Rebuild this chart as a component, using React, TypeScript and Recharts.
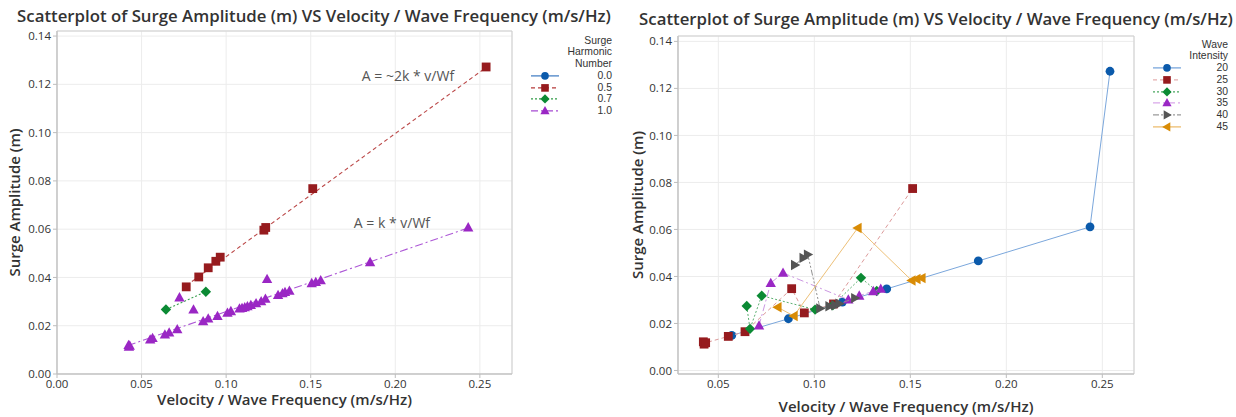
import React from "react";
import {
  ScatterChart,
  Scatter,
  XAxis,
  YAxis,
  CartesianGrid,
  ReferenceArea,
  ReferenceDot,
} from "recharts";

// ---------- LEFT CHART DATA (grouped by Surge Harmonic Number) ----------
const harmonic05 = [
  { x: 0.0764, y: 0.0361 }, { x: 0.0838, y: 0.0402 }, { x: 0.0894, y: 0.044 },
  { x: 0.0939, y: 0.0467 }, { x: 0.0965, y: 0.0484 }, { x: 0.1223, y: 0.0596 },
  { x: 0.1234, y: 0.0607 }, { x: 0.1512, y: 0.0768 }, { x: 0.2537, y: 0.1272 },
];
const harmonic07 = [
  { x: 0.0644, y: 0.0267 }, { x: 0.088, y: 0.0341 },
];
const harmonic10 = [
  { x: 0.0423, y: 0.012 }, { x: 0.0425, y: 0.0112 }, { x: 0.043, y: 0.0117 },
  { x: 0.0551, y: 0.0142 }, { x: 0.0565, y: 0.0149 }, { x: 0.0638, y: 0.0163 },
  { x: 0.0663, y: 0.0171 }, { x: 0.0711, y: 0.0185 }, { x: 0.0724, y: 0.0317 },
  { x: 0.0807, y: 0.0267 }, { x: 0.0864, y: 0.0218 }, { x: 0.0894, y: 0.0229 },
  { x: 0.0949, y: 0.024 }, { x: 0.1008, y: 0.0253 }, { x: 0.1028, y: 0.026 },
  { x: 0.1079, y: 0.0271 }, { x: 0.1094, y: 0.0273 }, { x: 0.111, y: 0.0276 },
  { x: 0.1126, y: 0.028 }, { x: 0.1146, y: 0.0285 }, { x: 0.1177, y: 0.0293 },
  { x: 0.1207, y: 0.0301 }, { x: 0.1232, y: 0.0311 }, { x: 0.1242, y: 0.0393 },
  { x: 0.1307, y: 0.0327 }, { x: 0.1333, y: 0.0334 }, { x: 0.1348, y: 0.0339 },
  { x: 0.1374, y: 0.0344 }, { x: 0.1506, y: 0.0376 }, { x: 0.153, y: 0.0381 },
  { x: 0.1559, y: 0.0388 }, { x: 0.1851, y: 0.0463 }, { x: 0.2431, y: 0.0607 },
];
// fitted lines (end points)
const fit05 = [{ x: 0.0764, y: 0.0366 }, { x: 0.2537, y: 0.127 }];
const fit07 = [{ x: 0.0644, y: 0.0267 }, { x: 0.088, y: 0.0341 }];
const fit10 = [{ x: 0.0419, y: 0.0118 }, { x: 0.2431, y: 0.0605 }];

const leftXTicks = [0, 0.05, 0.1, 0.15, 0.2, 0.25];
const leftYTicks = [0, 0.02, 0.04, 0.06, 0.08, 0.1, 0.12, 0.14];
const leftLegendTitle = ["Surge", "Harmonic", "Number"];
const leftLegendLabels = ["0.0", "0.5", "0.7", "1.0"];
const annotations = ["A = ~2k * v/Wf", "A = k * v/Wf"];

// ---------- RIGHT CHART DATA (grouped by Wave Intensity) ----------
const intensity20 = [
  { x: 0.057, y: 0.0149 }, { x: 0.0865, y: 0.022 }, { x: 0.1146, y: 0.0291 },
  { x: 0.1377, y: 0.0347 }, { x: 0.1854, y: 0.0466 }, { x: 0.2436, y: 0.0611 },
  { x: 0.254, y: 0.1273 },
];
const intensity25 = [
  { x: 0.0422, y: 0.0122 }, { x: 0.0426, y: 0.0112 }, { x: 0.0434, y: 0.0118 },
  { x: 0.0552, y: 0.0145 }, { x: 0.0639, y: 0.0165 }, { x: 0.0882, y: 0.0348 },
  { x: 0.0948, y: 0.0245 }, { x: 0.11, y: 0.0283 }, { x: 0.1512, y: 0.0774 },
];
const intensity30 = [
  { x: 0.0648, y: 0.0274 }, { x: 0.0665, y: 0.0177 }, { x: 0.0726, y: 0.0318 },
  { x: 0.1004, y: 0.0259 }, { x: 0.1096, y: 0.0277 }, { x: 0.1243, y: 0.0394 },
  { x: 0.1325, y: 0.0338 },
];
const intensity35 = [
  { x: 0.0712, y: 0.0191 }, { x: 0.0773, y: 0.0372 }, { x: 0.0837, y: 0.0415 },
  { x: 0.1177, y: 0.0301 }, { x: 0.1234, y: 0.0318 }, { x: 0.1307, y: 0.0337 },
  { x: 0.1346, y: 0.0347 },
];
const intensity40 = [
  { x: 0.0899, y: 0.0449 }, { x: 0.0943, y: 0.0479 }, { x: 0.0966, y: 0.0493 },
  { x: 0.103, y: 0.0264 }, { x: 0.1078, y: 0.0273 }, { x: 0.1108, y: 0.0277 },
  { x: 0.113, y: 0.0284 }, { x: 0.1212, y: 0.0308 },
];
const intensity45 = [
  { x: 0.0809, y: 0.0269 }, { x: 0.0893, y: 0.0232 }, { x: 0.1226, y: 0.0606 },
  { x: 0.1507, y: 0.0383 }, { x: 0.1533, y: 0.0389 }, { x: 0.1559, y: 0.0393 },
];
const rightXTicks = [0.05, 0.1, 0.15, 0.2, 0.25];
const rightYTicks = [0, 0.02, 0.04, 0.06, 0.08, 0.1, 0.12, 0.14];
const rightLegendTitle = ["Wave", "Intensity"];
const rightLegendLabels = ["20", "25", "30", "35", "40", "45"];

const TITLE = "Scatterplot of Surge Amplitude (m) VS Velocity / Wave Frequency (m/s/Hz)";
const X_LABEL = "Velocity / Wave Frequency (m/s/Hz)";
const Y_LABEL = "Surge Amplitude (m)";

// ---------- styles ----------
const FONT = "'Open Sans', 'Noto Sans', sans-serif";
const LEGEND_FONT = "'Liberation Sans', Arial, sans-serif";
const C = {
  blue: "#0b5aab",
  red: "#961b1e",
  green: "#0b8a34",
  purple: "#9a27c4",
  gray: "#555555",
  orange: "#d98c06",
};

type Kind = "circle" | "square" | "diamond" | "up" | "right" | "left";

const markerEl = (kind: Kind, cx: number, cy: number, fill: string, s = 4.4) => {
  switch (kind) {
    case "circle":
      return <circle cx={cx} cy={cy} r={s} fill={fill} />;
    case "square":
      return <rect x={cx - s} y={cy - s} width={2 * s} height={2 * s} fill={fill} />;
    case "diamond":
      return (
        <polygon
          points={`${cx},${cy - s - 0.8} ${cx + s + 0.8},${cy} ${cx},${cy + s + 0.8} ${cx - s - 0.8},${cy}`}
          fill={fill}
        />
      );
    case "up":
      return (
        <polygon
          points={`${cx},${cy - s - 1} ${cx + s + 0.8},${cy + s - 0.5} ${cx - s - 0.8},${cy + s - 0.5}`}
          fill={fill}
        />
      );
    case "right":
      return (
        <polygon
          points={`${cx + s + 1},${cy} ${cx - s + 0.5},${cy - s - 0.8} ${cx - s + 0.5},${cy + s + 0.8}`}
          fill={fill}
        />
      );
    case "left":
      return (
        <polygon
          points={`${cx - s - 1},${cy} ${cx + s - 0.5},${cy - s - 0.8} ${cx + s - 0.5},${cy + s + 0.8}`}
          fill={fill}
        />
      );
  }
};

const shapeOf = (kind: Kind, fill: string) => (props: any) => {
  const { cx, cy } = props;
  if (cx == null || cy == null) return <g />;
  return markerEl(kind, cx, cy, fill);
};
const noShape = () => <g />;

const tickStyle = { fontSize: 11.5, fill: "#333", fontFamily: FONT };
const axisLabelStyle = {
  fontSize: 15,
  fill: "#333",
  fontFamily: FONT,
  fontWeight: 600,
  textAnchor: "middle" as const,
};
const fmt = (v: number) => v.toFixed(2);

type LegendItem = { label: string; kind: Kind; color: string; line: string; dash: string };

const LegendBox = ({
  left,
  top,
  width,
  titles,
  items,
  rowH,
  markerX,
}: {
  left: number;
  top: number;
  width: number;
  titles: string[];
  items: LegendItem[];
  rowH: number;
  markerX: number;
}) => (
  <div
    style={{
      position: "absolute",
      left,
      top,
      width,
      fontFamily: LEGEND_FONT,
      fontSize: 10.4,
      color: "#333",
      lineHeight: `${rowH}px`,
    }}
  >
    {titles.map((t) => (
      <div key={t} style={{ textAlign: "right", height: rowH }}>
        {t}
      </div>
    ))}
    {items.map((it) => (
      <div key={it.label} style={{ position: "relative", height: rowH, textAlign: "right" }}>
        <svg
          width={30}
          height={rowH}
          style={{ position: "absolute", left: markerX - 15, top: 0 }}
        >
          <line
            x1={1}
            x2={29}
            y1={rowH / 2}
            y2={rowH / 2}
            stroke={it.line}
            strokeWidth={1.2}
            strokeDasharray={it.dash}
          />
          {markerEl(it.kind, 15, rowH / 2, it.color, 3.8)}
        </svg>
        {it.label}
      </div>
    ))}
  </div>
);

const Title = ({ cx, top }: { cx: number; top: number }) => (
  <div
    style={{
      position: "absolute",
      left: cx - 320,
      width: 640,
      top,
      textAlign: "center",
      fontFamily: FONT,
      fontSize: 16.8,
      fontWeight: 600,
      color: "#333",
      whiteSpace: "nowrap",
    }}
  >
    {TITLE}
  </div>
);

const LeftChart = () => (
  <ScatterChart
    width={618}
    height={417}
    margin={{ top: 31, right: 106, bottom: 0, left: 0 }}
  >
    <CartesianGrid stroke="#ececec" horizontal vertical />
    <XAxis
      type="number"
      dataKey="x"
      domain={[0, 0.269]}
      ticks={leftXTicks}
      tickFormatter={fmt}
      height={43}
      tick={tickStyle}
      tickSize={4}
      stroke="#bdbdbd"
      allowDataOverflow
      label={{ value: X_LABEL, position: "insideBottom", offset: 12, style: axisLabelStyle }}
    />
    <YAxis
      type="number"
      dataKey="y"
      domain={[0, 0.1421]}
      ticks={leftYTicks}
      tickFormatter={fmt}
      width={57}
      tick={tickStyle}
      tickSize={4}
      stroke="#bdbdbd"
      allowDataOverflow
      label={{ value: Y_LABEL, angle: -90, position: "insideLeft", offset: 15, style: axisLabelStyle }}
    />
    <ReferenceArea x1={0} x2={0.269} y1={0} y2={0.1421} fill="none" stroke="#cfcfcf" ifOverflow="visible" />
    <Scatter data={fit05} isAnimationActive={false} shape={noShape}
      line={{ stroke: "#bb4848", strokeWidth: 1.1, strokeDasharray: "4 3" }} />
    <Scatter data={fit07} isAnimationActive={false} shape={noShape}
      line={{ stroke: "#3aa050", strokeWidth: 1.1, strokeDasharray: "2 2" }} />
    <Scatter data={fit10} isAnimationActive={false} shape={noShape}
      line={{ stroke: "#ad58d6", strokeWidth: 1.1, strokeDasharray: "8 3 2 3" }} />
    <Scatter data={harmonic05} isAnimationActive={false} shape={shapeOf("square", C.red)} />
    <Scatter data={harmonic07} isAnimationActive={false} shape={shapeOf("diamond", C.green)} />
    <Scatter data={harmonic10} isAnimationActive={false} shape={shapeOf("up", C.purple)} />
    <ReferenceDot x={0.2075} y={0.1236} r={0} fill="none" stroke="none"
      label={{ value: annotations[0], position: "center", style: { fontSize: 14, fill: "#555", fontFamily: FONT } }} />
    <ReferenceDot x={0.198} y={0.0625} r={0} fill="none" stroke="none"
      label={{ value: annotations[1], position: "center", style: { fontSize: 14, fill: "#555", fontFamily: FONT } }} />
  </ScatterChart>
);

const RightChart = () => (
  <ScatterChart
    width={618}
    height={417}
    margin={{ top: 36, right: 102, bottom: 0, left: 0 }}
  >
    <CartesianGrid stroke="#ececec" horizontal vertical />
    <XAxis
      type="number"
      dataKey="x"
      domain={[0.029, 0.2665]}
      ticks={rightXTicks}
      tickFormatter={fmt}
      height={43}
      tick={tickStyle}
      tickSize={4}
      stroke="#bdbdbd"
      allowDataOverflow
      label={{ value: X_LABEL, position: "insideBottom", offset: 5, style: axisLabelStyle }}
    />
    <YAxis
      type="number"
      dataKey="y"
      domain={[-0.0015, 0.1423]}
      ticks={rightYTicks}
      tickFormatter={fmt}
      width={60}
      tick={tickStyle}
      tickSize={4}
      stroke="#bdbdbd"
      allowDataOverflow
      label={{ value: Y_LABEL, angle: -90, position: "insideLeft", offset: 20, style: axisLabelStyle }}
    />
    <ReferenceArea x1={0.029} x2={0.2665} y1={-0.0015} y2={0.1423} fill="none" stroke="#cfcfcf" ifOverflow="visible" />
    <Scatter data={intensity20} isAnimationActive={false} shape={shapeOf("circle", C.blue)}
      line={{ stroke: "#7ba7dc", strokeWidth: 1 }} />
    <Scatter data={intensity25} isAnimationActive={false} shape={shapeOf("square", C.red)}
      line={{ stroke: "#dc9a9a", strokeWidth: 1, strokeDasharray: "4 3" }} />
    <Scatter data={intensity30} isAnimationActive={false} shape={shapeOf("diamond", C.green)}
      line={{ stroke: "#5cb070", strokeWidth: 1, strokeDasharray: "2 2" }} />
    <Scatter data={intensity35} isAnimationActive={false} shape={shapeOf("up", C.purple)}
      line={{ stroke: "#cc98e2", strokeWidth: 1, strokeDasharray: "7 3 2 3" }} />
    <Scatter data={intensity40} isAnimationActive={false} shape={shapeOf("right", C.gray)}
      line={{ stroke: "#909090", strokeWidth: 1, strokeDasharray: "6 2 2 2 2 2" }} />
    <Scatter data={intensity45} isAnimationActive={false} shape={shapeOf("left", C.orange)}
      line={{ stroke: "#edc078", strokeWidth: 1 }} />
  </ScatterChart>
);

const leftItems: LegendItem[] = [
  { label: leftLegendLabels[0], kind: "circle", color: C.blue, line: "#3a78c0", dash: "" },
  { label: leftLegendLabels[1], kind: "square", color: C.red, line: "#b53a3a", dash: "4 3" },
  { label: leftLegendLabels[2], kind: "diamond", color: C.green, line: "#2f9b45", dash: "2 2" },
  { label: leftLegendLabels[3], kind: "up", color: C.purple, line: "#a64bd2", dash: "7 3 2 3" },
];
const rightItems: LegendItem[] = [
  { label: rightLegendLabels[0], kind: "circle", color: C.blue, line: "#6f9fd8", dash: "" },
  { label: rightLegendLabels[1], kind: "square", color: C.red, line: "#e6b0b0", dash: "4 3" },
  { label: rightLegendLabels[2], kind: "diamond", color: C.green, line: "#4aa860", dash: "2 2" },
  { label: rightLegendLabels[3], kind: "up", color: C.purple, line: "#d9a8ea", dash: "7 3 2 3" },
  { label: rightLegendLabels[4], kind: "right", color: C.gray, line: "#9a9a9a", dash: "6 2 2 2" },
  { label: rightLegendLabels[5], kind: "left", color: C.orange, line: "#ebb865", dash: "" },
];

export default function App() {
  return (
    <div
      style={{
        position: "absolute",
        left: 0,
        top: 0,
        width: 1236,
        height: 417,
        background: "#fff",
        overflow: "hidden",
      }}
    >
      <div style={{ position: "absolute", left: 0, top: 0 }}>
        <LeftChart />
      </div>
      <div style={{ position: "absolute", left: 618, top: 0 }}>
        <RightChart />
      </div>
      <Title cx={314} top={4} />
      <Title cx={936} top={7} />
      <LegendBox
        left={520}
        top={34.5}
        width={92}
        titles={leftLegendTitle}
        items={leftItems}
        rowH={11.8}
        markerX={25}
      />
      <LegendBox
        left={1140}
        top={38.5}
        width={88}
        titles={rightLegendTitle}
        items={rightItems}
        rowH={11.8}
        markerX={27}
      />
    </div>
  );
}
